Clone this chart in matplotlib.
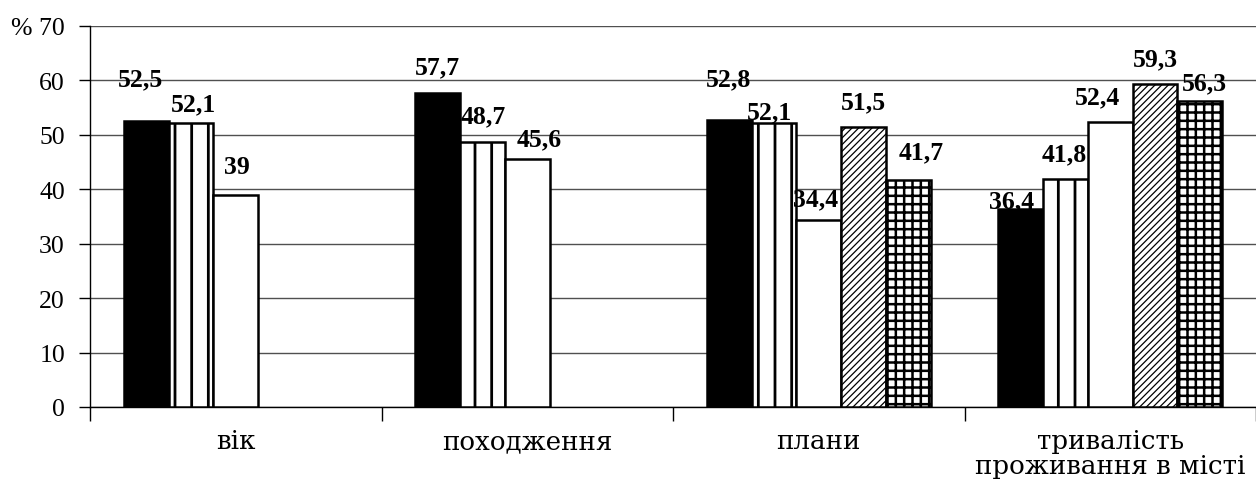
import matplotlib
matplotlib.use("Agg")
import matplotlib.pyplot as plt
import numpy as np

categories = ["вік", "походження", "плани", "тривалість\nпроживання в місті"]
series1 = [52.5, 57.7, 52.8, 36.4]
series2 = [52.1, 48.7, 52.1, 41.8]
series3 = [39.0, 45.6, 34.4, 52.4]
series4 = [None, None, 51.5, 59.3]
series5 = [None, None, 41.7, 56.3]
value_labels = [
    ["52,5", "57,7", "52,8", "36,4"],
    ["52,1", "48,7", "52,1", "41,8"],
    ["39", "45,6", "34,4", "52,4"],
    [None, None, "51,5", "59,3"],
    [None, None, "41,7", "56,3"],
]
yticks = [0, 10, 20, 30, 40, 50, 60, 70]
ytick_labels = ["0", "10", "20", "30", "40", "50", "60", "% 70"]

# label offsets (pixels) relative to bar-top centre: (dx, dy up)
label_offsets = [
    [(-6, 42), (0, 26), (-1, 41), (-9, 8)],
    [(3, 20), (1, 26), (-4, 12), (-1, 26)],
    [(1, 28), (12, 20), (-3, 21), (-13, 25)],
    [None, None, (0, 25), (0, 25)],
    [None, None, (13, 28), (5, 18)],
]

plt.rcParams['font.family'] = ['Liberation Serif', 'DejaVu Serif']
plt.rcParams['hatch.linewidth'] = 1.6

fig = plt.figure(figsize=(12.56, 4.81), dpi=100)
ax = fig.add_axes([90/1256, 1-408/481, 1-90/1256, (408-27)/481])

series = [series1, series2, series3, series4, series5]
styles = [
    dict(facecolor='black', hatch=None, hlw=1.6),
    dict(facecolor='white', hatch='|', hlw=2.0),
    dict(facecolor='white', hatch=None, hlw=1.6),
    dict(facecolor='white', hatch='/////', hlw=0.9),
    dict(facecolor='white', hatch='++', hlw=1.8),
]
width = 45/293
x = np.arange(len(categories))
for i, (s, st) in enumerate(zip(series, styles)):
    for j, v in enumerate(s):
        if v is None:
            continue
        xpos = x[j] + (i - 2) * width
        bars = ax.bar(xpos, v, width=width, facecolor=st['facecolor'], hatch=st['hatch'],
                      edgecolor='black', linewidth=1.8, zorder=3)
        for b in bars:
            try:
                b.set_hatch_linewidth(st['hlw'])
            except AttributeError:
                pass
        dx, dy = label_offsets[i][j]
        ax.annotate(value_labels[i][j], (xpos, v), xytext=(dx, dy),
                    textcoords='offset pixels', ha='center', va='center',
                    fontsize=18.5, fontweight='bold', zorder=5)

ax.set_xlim(-0.5, len(categories) - 0.5)
ax.set_ylim(0, 70)
ax.set_yticks(yticks)
ax.set_yticklabels(ytick_labels, fontsize=18.5)
ax.set_xticks(x)
ax.set_xticklabels(categories, fontsize=18.8, linespacing=1.0,
                   family=['DejaVu Serif'])
ax.tick_params(axis='x', length=0, pad=15)
ax.tick_params(axis='y', length=8, width=1, direction='out', pad=10)
# category boundary ticks
ax.set_xticks(np.arange(-0.5, len(categories) + 0.5, 1), minor=True)
ax.tick_params(axis='x', which='minor', length=10, width=1, direction='out')
ax.yaxis.grid(True, color='#505050', linewidth=1, zorder=0)
ax.set_axisbelow(True)
for sp in ['top', 'right']:
    ax.spines[sp].set_visible(False)
ax.spines['left'].set_linewidth(1)
ax.spines['bottom'].set_linewidth(1)

fig.savefig("out.png", dpi=100)
